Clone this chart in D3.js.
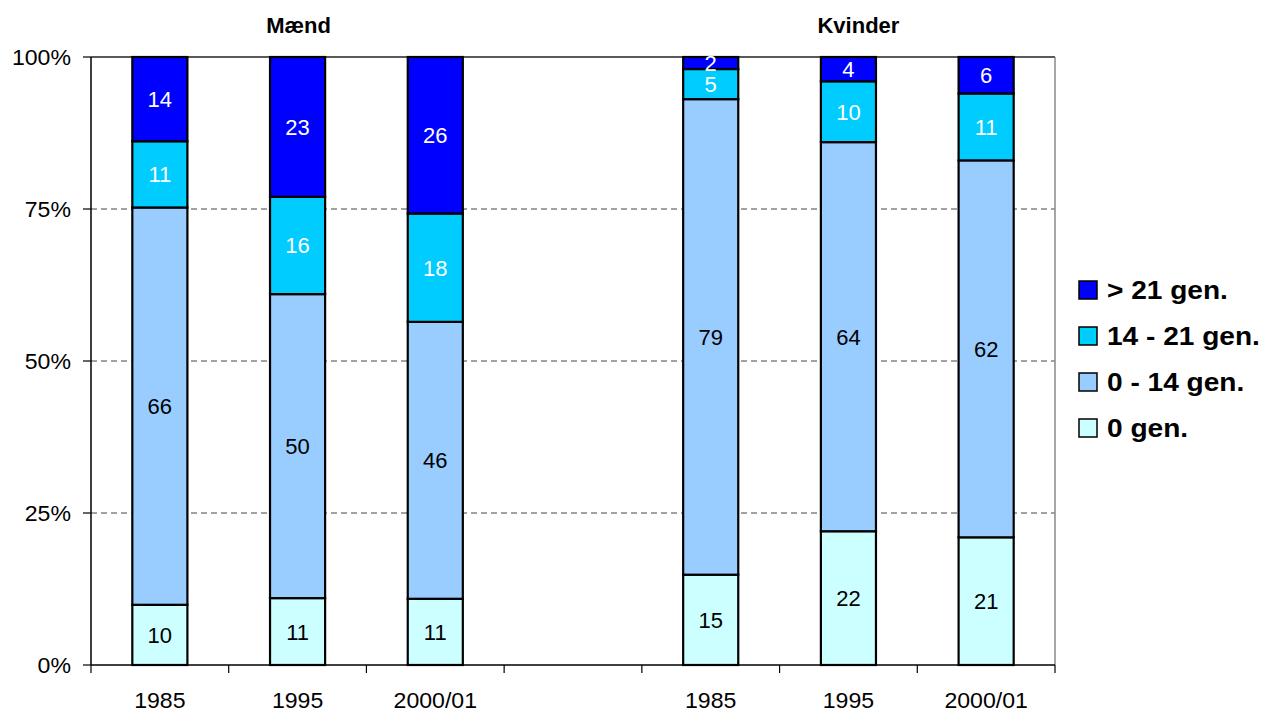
<!DOCTYPE html>
<html>
<head>
<meta charset="utf-8">
<script src="https://cdn.jsdelivr.net/npm/d3@7"></script>
<style>
  html, body { margin: 0; padding: 0; background: #fff; }
  svg { display: block; font-family: "Liberation Sans", Arial, sans-serif; }
</style>
</head>
<body>
<svg id="svg" width="1268" height="713"></svg>
<script>
// categories
const groups = ["Mænd", "Kvinder"];
const years = ["1985", "1995", "2000/01"];
const seriesNames = ["0 gen.", "0 - 14 gen.", "14 - 21 gen.", "> 21 gen."];
const seriesColors = ["#CCFFFF", "#99CCFF", "#00CCFF", "#0000FF"];
const labelColors = ["#000", "#000", "#fff", "#fff"];

// values, Mænd 1985/1995/2000-01 then Kvinder 1985/1995/2000-01
const gen0 = [10, 11, 11, 15, 22, 21];
const gen0to14 = [66, 50, 46, 79, 64, 62];
const gen14to21 = [11, 16, 18, 5, 10, 11];
const genOver21 = [14, 23, 26, 2, 4, 6];

const yTicks = [0, 0.25, 0.5, 0.75, 1];

// slots: three bars, one empty slot, three bars
const slots = [];
groups.forEach((g, gi) => {
    if (gi > 0) slots.push("gap");
    years.forEach(y => slots.push(g + "|" + y));
});

const rows = [];
groups.forEach((g, gi) => {
    years.forEach((y, yi) => {
        const i = gi * years.length + yi;
        rows.push({
            key: g + "|" + y,
            year: y,
            [seriesNames[0]]: gen0[i],
            [seriesNames[1]]: gen0to14[i],
            [seriesNames[2]]: gen14to21[i],
            [seriesNames[3]]: genOver21[i]
        });
    });
});

const svg = d3.select("#svg");
const plotLeft = 91, plotRight = 1055, plotTop = 57, plotBottom = 665;

const x = d3.scaleBand().domain(slots).range([plotLeft, plotRight]).padding(0);
const y = d3.scaleLinear().domain([0, 1]).range([plotBottom, plotTop]);
const barW = x.bandwidth() * 0.4;

// text drawn a little wider than tall, like the source picture
function stretchedText(sel, px, py, sx) {
    return sel.attr("transform", `translate(${px}, ${py}) scale(${sx}, 1)`);
}

// gridlines
svg.append("g").selectAll("line")
    .data([0.25, 0.5, 0.75])
    .join("line")
    .attr("x1", plotLeft).attr("x2", plotRight)
    .attr("y1", d => y(d)).attr("y2", d => y(d))
    .attr("stroke", "#444")
    .attr("stroke-width", 1)
    .attr("stroke-dasharray", "6,4");

// plot frame: top and right
svg.append("line")
    .attr("x1", plotLeft).attr("x2", plotRight).attr("y1", plotTop).attr("y2", plotTop)
    .attr("stroke", "#222").attr("stroke-width", 1.5);
svg.append("line")
    .attr("x1", plotRight).attr("x2", plotRight).attr("y1", plotTop).attr("y2", plotBottom)
    .attr("stroke", "#888").attr("stroke-width", 1.5);

// stacked bars
const stack = d3.stack().keys(seriesNames).offset(d3.stackOffsetExpand);
const layers = stack(rows);

const layer = svg.append("g").selectAll("g")
    .data(layers)
    .join("g")
    .attr("fill", (d, i) => seriesColors[i]);

layer.selectAll("rect")
    .data(d => d)
    .join("rect")
    .attr("x", d => x(d.data.key) + (x.bandwidth() - barW) / 2)
    .attr("width", barW)
    .attr("y", d => y(d[1]))
    .attr("height", d => y(d[0]) - y(d[1]))
    .attr("stroke", "#000")
    .attr("stroke-width", 2.2);

// value labels
layers.forEach((ly, si) => {
    svg.append("g").selectAll("text")
        .data(ly)
        .join("text")
        .each(function (d) {
            stretchedText(d3.select(this),
                x(d.data.key) + x.bandwidth() / 2,
                y((d[0] + d[1]) / 2) + 8, 1.0);
        })
        .attr("text-anchor", "middle")
        .attr("font-size", 22)
        .attr("fill", labelColors[si])
        .text(d => d.data[ly.key]);
});

// x axis
svg.append("line")
    .attr("x1", plotLeft).attr("x2", plotRight).attr("y1", plotBottom).attr("y2", plotBottom)
    .attr("stroke", "#000").attr("stroke-width", 1.5);
const bounds = slots.map(s => x(s)).concat([plotRight]);
svg.append("g").selectAll("line")
    .data(bounds)
    .join("line")
    .attr("x1", d => d).attr("x2", d => d)
    .attr("y1", plotBottom).attr("y2", plotBottom + 8)
    .attr("stroke", "#000").attr("stroke-width", 1.2);
svg.append("g").selectAll("text")
    .data(rows)
    .join("text")
    .each(function (d) {
        stretchedText(d3.select(this), x(d.key) + x.bandwidth() / 2, 708, 1.05);
    })
    .attr("text-anchor", "middle")
    .attr("font-size", 22)
    .attr("fill", "#000")
    .text(d => d.year);

// y axis
svg.append("line")
    .attr("x1", plotLeft).attr("x2", plotLeft).attr("y1", plotTop).attr("y2", plotBottom)
    .attr("stroke", "#000").attr("stroke-width", 1.5);
svg.append("g").selectAll("line")
    .data(yTicks)
    .join("line")
    .attr("x1", plotLeft - 8).attr("x2", plotLeft)
    .attr("y1", d => y(d)).attr("y2", d => y(d))
    .attr("stroke", "#000").attr("stroke-width", 1.2);
svg.append("g").selectAll("text")
    .data(yTicks)
    .join("text")
    .each(function (d) {
        stretchedText(d3.select(this), 71, y(d) + 8, 1.05);
    })
    .attr("text-anchor", "end")
    .attr("font-size", 22)
    .attr("fill", "#000")
    .text(d3.format(".0%"));

// group titles
const titlePos = [
    x(groups[0] + "|" + years[1]) + x.bandwidth() / 2 + 1,
    x(groups[1] + "|" + years[1]) + x.bandwidth() / 2 + 10
];
svg.append("g").selectAll("text")
    .data(groups)
    .join("text")
    .each(function (d, i) {
        stretchedText(d3.select(this), titlePos[i], 33, 1.0);
    })
    .attr("text-anchor", "middle")
    .attr("font-size", 22)
    .attr("font-weight", "bold")
    .attr("fill", "#000")
    .text(d => d);

// legend, top entry is the last series
const legend = svg.append("g").attr("transform", "translate(1079, 281)");
const legendItems = legend.selectAll("g")
    .data(seriesNames.slice().reverse())
    .join("g")
    .attr("transform", (d, i) => `translate(0, ${i * 46})`);
legendItems.append("rect")
    .attr("width", 18).attr("height", 18)
    .attr("fill", d => seriesColors[seriesNames.indexOf(d)])
    .attr("stroke", "#000").attr("stroke-width", 1.5);
legendItems.append("text")
    .each(function () {
        stretchedText(d3.select(this), 28, 18, 1.08);
    })
    .attr("font-size", 26)
    .attr("font-weight", "bold")
    .attr("fill", "#000")
    .text(d => d);
</script>
</body>
</html>
